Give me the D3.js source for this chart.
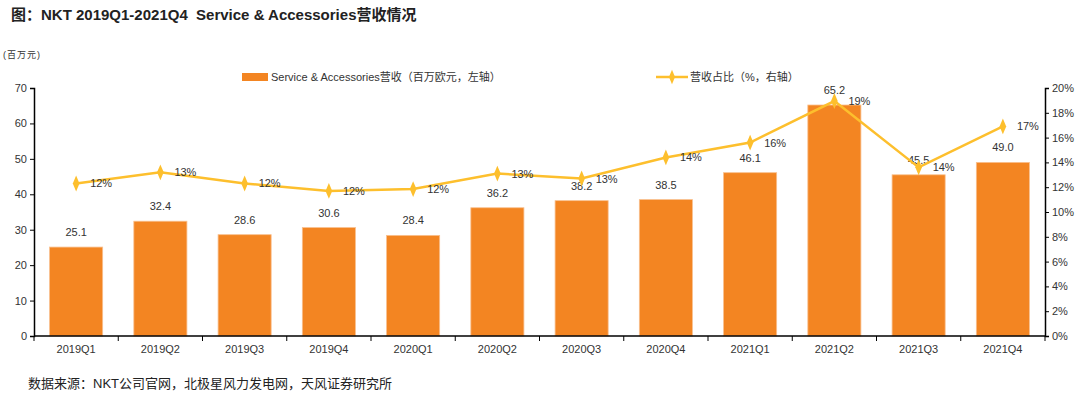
<!DOCTYPE html>
<html>
<head>
<meta charset="utf-8">
<script src="https://cdn.jsdelivr.net/npm/d3@7"></script>
<style>
  body { margin: 0; background: #fff; }
  text { font-family: "Liberation Sans", Arial, "Noto Sans CJK SC", sans-serif; white-space: pre; }
</style>
</head>
<body>
<div id="chart"></div>
<script>
const quarters = ["2019Q1","2019Q2","2019Q3","2019Q4","2020Q1","2020Q2","2020Q3","2020Q4","2021Q1","2021Q2","2021Q3","2021Q4"];
const revenue = [25.1, 32.4, 28.6, 30.6, 28.4, 36.2, 38.2, 38.5, 46.1, 65.2, 45.5, 49.0];
const share = [12.3, 13.2, 12.3, 11.7, 11.85, 13.1, 12.7, 14.4, 15.6, 18.95, 13.6, 16.9];
const shareLabels = ["12%","13%","12%","12%","12%","13%","13%","14%","16%","19%","14%","17%"];
const leftTicks = [0, 10, 20, 30, 40, 50, 60, 70];
const rightTicks = [0, 2, 4, 6, 8, 10, 12, 14, 16, 18, 20];

const W = 1080, H = 398;
const margin = { top: 88, right: 35, bottom: 62, left: 34 };
const width = W - margin.left - margin.right;
const height = H - margin.top - margin.bottom;

const svg = d3.select("#chart").append("svg")
    .attr("width", W).attr("height", H);

// title + notes
svg.append("text").attr("x", 11).attr("y", 20)
    .attr("font-size", 15).attr("font-weight", "bold").attr("fill", "#222")
    .text("图：NKT 2019Q1-2021Q4  Service & Accessories营收情况");
svg.append("text").attr("x", 3).attr("y", 58)
    .attr("font-size", 9).attr("fill", "#333").attr("letter-spacing", 1).text("(百万元)");
svg.append("text").attr("x", 28).attr("y", 388)
    .attr("font-size", 13).attr("fill", "#222")
    .text("数据来源：NKT公司官网，北极星风力发电网，天风证券研究所");

const g = svg.append("g").attr("transform", `translate(${margin.left},${margin.top})`);

const x = d3.scaleBand().domain(quarters).range([0, width]).paddingInner(0.37).paddingOuter(0.185);
const y = d3.scaleLinear().domain([0, 70]).range([height, 0]);
const y2 = d3.scaleLinear().domain([0, 20]).range([height, 0]);

// bars
g.selectAll(".bar").data(revenue).join("rect")
    .attr("x", (d, i) => x(quarters[i]))
    .attr("y", d => y(d))
    .attr("width", x.bandwidth())
    .attr("height", d => height - y(d))
    .attr("fill", "#F38522")
    .attr("stroke", "#F9C08E").attr("stroke-width", 0.8);

g.selectAll(".barlabel").data(revenue).join("text")
    .attr("x", (d, i) => x(quarters[i]) + x.bandwidth() / 2)
    .attr("y", d => y(d) - 11)
    .attr("text-anchor", "middle").attr("font-size", 11).attr("fill", "#333")
    .text(d => d.toFixed(1));

// line
const cx = i => x(quarters[i]) + x.bandwidth() / 2;
const line = d3.line().x((d, i) => cx(i)).y(d => y2(d));
g.append("path").datum(share)
    .attr("d", line).attr("fill", "none")
    .attr("stroke", "#FDBF2D").attr("stroke-width", 2.5);

g.selectAll(".pt").data(share).join("path")
    .attr("d", d3.symbol(d3.symbolDiamond, 60))
    .attr("transform", (d, i) => `translate(${cx(i)},${y2(d)}) scale(0.8,1.1)`)
    .attr("fill", "#FDBF2D");

g.selectAll(".ptlabel").data(share).join("text")
    .attr("x", (d, i) => cx(i) + 14)
    .attr("y", d => y2(d) + 4)
    .attr("font-size", 11).attr("fill", "#333")
    .text((d, i) => shareLabels[i]);

// axes
const axL = g.append("g")
    .call(d3.axisLeft(y).tickValues(leftTicks).tickSize(4).tickSizeOuter(4));
const axR = g.append("g").attr("transform", `translate(${width},0)`)
    .call(d3.axisRight(y2).tickValues(rightTicks).tickSize(4).tickSizeOuter(4).tickFormat(d => d + "%"));
const axX = g.append("g").attr("transform", `translate(0,${height})`)
    .call(d3.axisBottom(x).tickSize(0).tickPadding(9));

// category boundary ticks
const bounds = d3.range(quarters.length + 1).map(i => i * x.step() + (x(quarters[0]) - x.step() * x.paddingInner() / 2));
axX.selectAll(".bt").data(bounds).join("line")
    .attr("x1", d => d).attr("x2", d => d).attr("y1", 0).attr("y2", 5)
    .attr("stroke", "#000");

[axL, axR, axX].forEach(a => {
  a.select(".domain").attr("stroke", "#000").attr("stroke-width", 1.5);
  a.selectAll(".tick line").attr("stroke", "#000");
  a.selectAll("text").attr("font-size", 11).attr("fill", "#333")
      .attr("font-family", "Liberation Sans, Arial, sans-serif");
});
axX.select(".domain").attr("d", `M0,0H${width}`);

// legend
const lg = svg.append("g");
lg.append("rect").attr("x", 242).attr("y", 73).attr("width", 26).attr("height", 8).attr("fill", "#F38522");
lg.append("text").attr("x", 271).attr("y", 81).attr("font-size", 11).attr("fill", "#333")
    .text("Service & Accessories营收（百万欧元，左轴）");
lg.append("line").attr("x1", 656).attr("x2", 688).attr("y1", 77).attr("y2", 77)
    .attr("stroke", "#FDBF2D").attr("stroke-width", 2.5);
lg.append("path").attr("d", d3.symbol(d3.symbolDiamond, 50))
    .attr("transform", "translate(672,77) scale(0.8,1.1)").attr("fill", "#FDBF2D");
lg.append("text").attr("x", 690).attr("y", 81).attr("font-size", 11).attr("fill", "#333")
    .text("营收占比（%，右轴）");
</script>
</body>
</html>
